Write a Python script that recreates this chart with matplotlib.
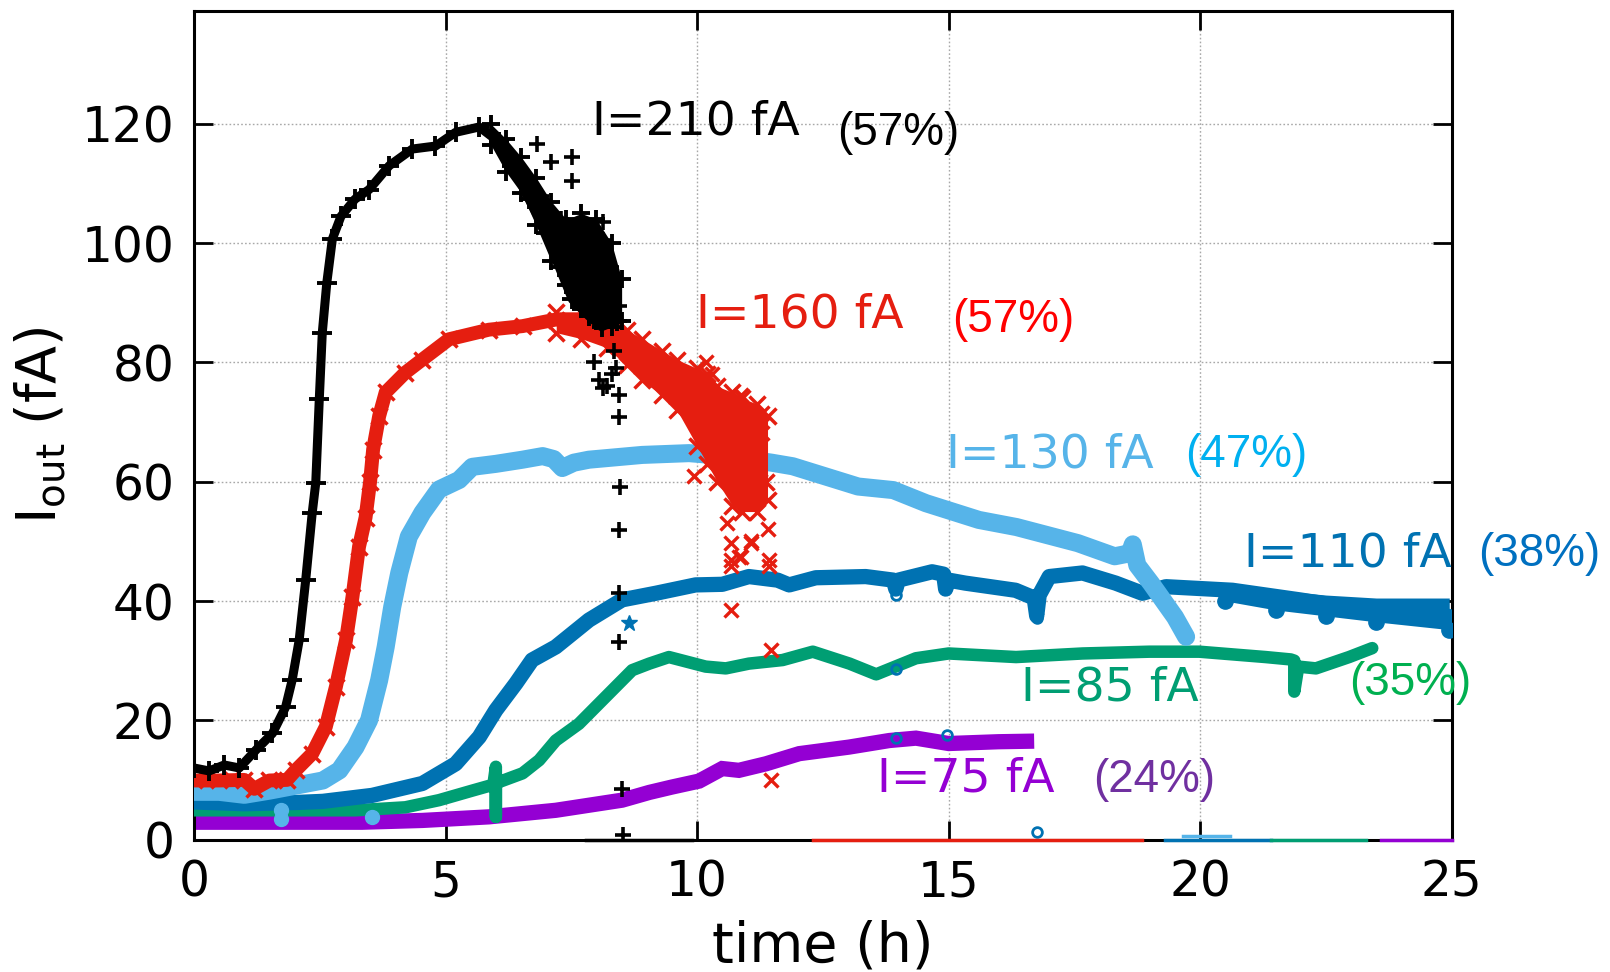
import matplotlib
matplotlib.use("Agg")
import matplotlib.pyplot as plt

# ---------------- data (time in h, current in fA) ----------------
black_t = [0, 0.3, 0.6, 0.9, 1.23, 1.56, 1.82, 1.95, 2.09, 2.22, 2.35, 2.42, 2.49, 2.55, 2.64,
           2.75, 2.92, 3.2, 3.48, 3.88, 4.34, 4.8, 5.2, 5.67, 6.06, 6.33, 6.66, 7.0, 7.26, 7.52,
           7.85, 8.1, 8.4]
black_y = [12, 11.5, 12.5, 12, 15, 17.8, 22.2, 26.7, 33.4, 43.5, 54.8, 59.8, 73.8, 85, 93.4,
           100.7, 104.5, 107.4, 109, 113, 115.8, 116.3, 118.6, 119.5, 117, 113, 107.4, 101.8, 96,
           90.6, 87.8, 86, 87]
black_band_t = [5.9, 6.2, 6.5, 6.8, 7.1, 7.4, 7.7, 8.0, 8.3, 8.5]
black_band_hi = [120, 117.5, 114.5, 111, 107, 104, 105, 104, 100, 94]
black_band_lo = [116.5, 112, 108.5, 103, 97, 93, 89, 87, 86, 87]
black_sc_t = [6.82, 7.09, 7.52, 7.52, 8.12, 8.12, 8.28, 8.45, 8.45, 8.45, 8.46, 8.45, 8.45,
              8.45, 8.5, 8.52, 7.7, 7.9, 8.0, 8.2, 8.3, 7.95, 8.05, 8.2, 8.3, 8.35, 7.3, 7.6,
              7.8, 6.6, 6.9, 8.12, 8.38]
black_sc_y = [116.6, 113.6, 114.4, 110.5, 103.5, 100.5, 96, 89.5, 74.6, 70.8, 59.2, 51.9, 41.3,
              33.1, 8.5, 0.7, 100, 97, 92, 93, 88, 80, 77, 76, 78, 82, 104, 98, 94, 111, 108,
              75.8, 79]

red_t = [0, 0.5, 1.0, 1.2, 1.5, 1.85, 2.02, 2.35, 2.62, 2.82, 3.02, 3.15, 3.28, 3.41, 3.5,
         3.56, 3.68, 3.81, 4.2, 4.54, 5.07, 5.86, 6.53, 7.19, 7.5, 7.85, 8.25, 8.91, 9.58,
         10.04, 10.44, 10.9, 11.36]
red_y = [9.9, 9.9, 10, 8.5, 9.9, 10, 11.6, 14.4, 18.9, 25.6, 33.4, 40.7, 49.1, 54, 60,
         65.4, 71, 75, 78.3, 80.5, 83.9, 85.5, 86.1, 87.2, 87, 86.7, 85.5, 80.5, 76.3,
         72, 66, 62, 60]
red_band_t = [7.2, 7.7, 8.2, 8.6, 8.9, 9.3, 9.6, 10.0, 10.2, 10.4, 10.7, 10.9, 11.2, 11.4]
red_band_hi = [88.5, 88.5, 87.5, 85.5, 84, 82, 80.5, 79, 78, 76, 75, 74, 73, 71]
red_band_lo = [85, 84, 82.5, 79.5, 77, 74.5, 72, 66, 63, 60, 56, 55, 55, 57]
red_sc_t = [10.67, 10.67, 10.83, 10.67, 11.07, 11.43, 11.43, 10.67, 9.94, 10.87, 11.3, 11.3,
            10.17, 11.47, 11.47, 11.07, 10.87, 10.3, 10.5, 11.0, 11.2, 10.6, 11.4, 9.9]
red_sc_y = [46.9, 49.7, 47.4, 45.8, 49.7, 46.9, 45.8, 38.5, 60.9, 74.6, 71.6, 68.2, 80, 31.8,
            9.9, 50, 47.4, 78, 70, 66, 58, 53, 52, 78]

lblue_t = [0, 0.5, 1.0, 1.5, 2.0, 2.56, 2.89, 3.21, 3.48, 3.68, 3.81, 3.94, 4.08, 4.27, 4.54,
           4.87, 5.27, 5.53, 6.0, 6.53, 6.93, 7.15, 7.32, 7.55, 7.85, 8.91, 9.84, 10.57, 11.48,
           11.9, 13.2, 13.9, 14.55, 15.6, 16.35, 17.57, 18.3, 18.6, 18.66, 18.75, 19.02, 19.5,
           19.72]
lblue_y = [8, 8, 7.5, 8.2, 9, 9.9, 11.6, 15.5, 20, 26.7, 32.3, 39, 44.7, 50.8, 54.8, 58.7,
           60.3, 62.5, 63, 63.7, 64.3, 63.8, 62.3, 63.2, 63.7, 64.5, 64.8, 64.3, 63.2, 62.6,
           59.2, 58.6, 56.4, 53.6, 52.4, 49.7, 47.5, 48, 49.5, 46, 43, 37.3, 34]
lblue_sc_t = [1.72, 1.72, 3.54]
lblue_sc_y = [4.9, 3.5, 3.7]

blue_t = [0, 1, 2, 2.56, 3.54, 4.54, 5.2, 5.67, 6.0, 6.4, 6.72, 7.19, 7.85, 8.51, 9.18, 9.97,
          10.5, 11.03, 11.6, 11.83, 12.36, 13.35, 13.9, 13.95, 14.0, 14.67, 14.9, 14.94, 15.0,
          15.33, 16.33, 16.7, 16.75, 16.8, 17.0, 17.66, 18.32, 18.85, 19.32, 20.64, 21.97,
          23.3, 24.95]
blue_y = [6.3, 6, 6.2, 6.4, 7.4, 9.4, 12.7, 17.2, 21.7, 26.2, 30.1, 32.3, 36.8, 40.2, 41.3,
          42.7, 42.8, 44.1, 43.5, 42.7, 43.9, 44.1, 43.5, 42, 43.5, 44.9, 44.5, 42, 43.5, 43,
          41.8, 40.5, 37.5, 41, 44.1, 44.7, 43, 41.3, 42.4, 41.8, 40.2, 38.5, 37.4]
blue_band_t = [20.5, 21.5, 22.5, 23.5, 24.95]
blue_band_hi = [42.5, 41.8, 41, 40.5, 40.5]
blue_band_lo = [40, 38.5, 37.5, 36.5, 35.2]
blue_open_t = [16.75, 16.75, 13.95, 14.97, 13.95, 13.95]
blue_open_y = [37.1, 1.2, 17, 17.5, 28.6, 41.0]
blue_star_t = [8.65]
blue_star_y = [36.3]

green_t = [0, 1, 2, 3.21, 4.2, 4.87, 5.53, 5.95, 6.0, 6.0, 6.0, 6.05, 6.53, 6.86, 7.19, 7.65,
           8.18, 8.71, 9.05, 9.44, 10.17, 10.57, 11.03, 11.7, 12.3, 13.03, 13.56, 14.35, 15.0,
           16.34, 17.66, 18.99, 19.98, 21.3, 21.8, 21.87, 21.87, 21.95, 22.3, 22.96, 23.42]
green_y = [4.9, 4.9, 4.9, 4.9, 5.4, 6.6, 8.2, 9.2, 12.2, 3.8, 9.4, 9.6, 11.1, 13.3, 16.6, 19.4,
           23.9, 28.4, 29.5, 30.6, 29, 28.7, 29.5, 30.1, 31.5, 29.5, 27.7, 30.4, 31.2, 30.6,
           31.2, 31.5, 31.5, 30.6, 30.2, 30.0, 24.8, 29.0, 28.7, 30.6, 32.1]

purple_t = [0, 1, 2, 3.34, 4.54, 5.86, 7.19, 8.51, 9.05, 9.5, 10.04, 10.5, 10.83, 11.37,
            12.03, 13.02, 13.82, 14.35, 15.0, 15.99, 16.7]
purple_y = [2.9, 2.9, 2.9, 2.9, 3.2, 3.8, 4.9, 6.6, 7.9, 8.8, 9.8, 11.9, 11.6, 12.7, 14.4,
            15.5, 16.6, 17, 16.1, 16.4, 16.5]

# zero-valued stretches lying on the bottom axis (series colour, start h, end h, level)
zero_runs = [("black", 7.8, 9.9, 0.0), ("red", 12.3, 18.85, 0.0), ("blue", 19.3, 21.4, 0.0),
             ("lblue", 19.65, 20.6, 0.6), ("green", 21.4, 23.3, 0.0), ("purple", 23.6, 25.0, 0.0)]

labels = ["I=210 fA", "I=160 fA", "I=130 fA", "I=110 fA", "I=85 fA", "I=75 fA"]
label_pos = [(7.91, 120.3), (9.98, 88.0), (14.95, 64.5), (20.87, 47.8), (16.44, 25.4), (13.58, 10.2)]
percents = ["(57%)", "(57%)", "(47%)", "(38%)", "(35%)", "(24%)"]
percent_pos = [(12.78, 118.5), (15.07, 87.2), (19.7, 64.5), (25.53, 47.8), (22.96, 26.3), (17.87, 9.9)]

xticks = [0, 5, 10, 15, 20, 25]
yticks = [0, 20, 40, 60, 80, 100, 120]

# ---------------- styling ----------------
C = {"black": "#000000", "red": "#e51e10", "lblue": "#56b4e9", "blue": "#0072b2",
     "green": "#009e73", "purple": "#9400d3"}
label_colors = [C["black"], C["red"], C["lblue"], C["blue"], C["green"], C["purple"]]
percent_colors = ["#000000", "#ff0000", "#00b0f0", "#0070c0", "#00b050", "#7030a0"]

plt.rcParams["font.family"] = ["DejaVu Sans"]

fig = plt.figure(figsize=(16.1, 9.72), dpi=100)
ax = fig.add_axes([0.1205, 0.1363, 0.9017 - 0.1205, 0.989 - 0.1363])

ax.set_xlim(0, 25)
ax.set_ylim(0, 139)
ax.set_xticks(xticks)
ax.set_yticks(yticks)
ax.grid(True, color="#a8a8a8", linestyle=(0, (1.2, 1.6)), linewidth=1.0)
ax.set_axisbelow(True)
ax.tick_params(direction="in", length=14, width=2, top=True, right=True,
               labelsize=35, pad=14)
ax.tick_params(axis="x", pad=14)
for s in ax.spines.values():
    s.set_linewidth(2.2)

# purple (bottom layer)
ax.plot(purple_t, purple_y, color=C["purple"], lw=11, solid_capstyle="butt",
        solid_joinstyle="miter", zorder=2)
# green
ax.plot(green_t, green_y, color=C["green"], lw=9, solid_capstyle="round",
        solid_joinstyle="round", zorder=3)
# blue
ax.fill_between(blue_band_t, blue_band_lo, blue_band_hi, color=C["blue"], lw=0, zorder=4)
ax.plot(blue_t, blue_y, color=C["blue"], lw=11, solid_capstyle="round",
        solid_joinstyle="round", zorder=4)
ax.plot(blue_band_t, blue_band_lo, ls="none", marker="o", ms=11, color=C["blue"], zorder=4)
ax.plot(blue_open_t, blue_open_y, ls="none", marker="o", ms=7, mfc="none", mec=C["blue"],
        mew=2, zorder=4)
ax.plot(blue_star_t, blue_star_y, ls="none", marker="*", ms=12, color=C["blue"], zorder=4)
# light blue
ax.plot(lblue_t, lblue_y, color=C["lblue"], lw=13, solid_capstyle="round",
        solid_joinstyle="round", zorder=5)
ax.plot(lblue_sc_t, lblue_sc_y, ls="none", marker="o", ms=10, color=C["lblue"], zorder=5)
# red
ax.fill_between(red_band_t, red_band_lo, red_band_hi, color=C["red"], lw=0, zorder=6)
ax.plot(red_band_t, red_band_hi, ls="none", marker="x", ms=11, mew=2.5, color=C["red"], zorder=6)
ax.plot(red_band_t, red_band_lo, ls="none", marker="x", ms=11, mew=2.5, color=C["red"], zorder=6)
ax.plot(red_t, red_y, color=C["red"], lw=10, solid_capstyle="butt", zorder=6)
ax.plot(red_t, red_y, ls="none", marker="x", ms=12, mew=2.5, color=C["red"], zorder=6)
ax.plot(red_sc_t, red_sc_y, ls="none", marker="x", ms=10, mew=2.4, color=C["red"], zorder=6)
# black
ax.fill_between(black_band_t, black_band_lo, black_band_hi, color=C["black"], lw=0, zorder=7)
ax.plot(black_band_t, black_band_hi, ls="none", marker="+", ms=13, mew=2.8, color=C["black"],
        zorder=7)
ax.plot(black_band_t, black_band_lo, ls="none", marker="+", ms=13, mew=2.8, color=C["black"],
        zorder=7)
ax.plot(black_t, black_y, color=C["black"], lw=6.5, zorder=7)
ax.plot(black_t, black_y, ls="none", marker="+", ms=14, mew=2.8, color=C["black"], zorder=7)
ax.plot(black_sc_t, black_sc_y, ls="none", marker="+", ms=12, mew=2.6, color=C["black"],
        zorder=7)

# zero stretches on the axis
for key, a, b, lev in zero_runs:
    ax.plot([a, b], [lev, lev], color=C[key], lw=2.5, clip_on=False, zorder=8)

# annotations
for txt, (x, y), col in zip(labels, label_pos, label_colors):
    ax.text(x, y, txt, color=col, fontsize=34, ha="left", va="center", zorder=10)
for txt, (x, y), col in zip(percents, percent_pos, percent_colors):
    ax.text(x, y, txt, color=col, fontsize=33, family="Liberation Sans", ha="left",
            va="center", zorder=10, clip_on=False)

ax.set_xlabel("time (h)", fontsize=40, labelpad=9)
ax.set_ylabel(r"I$_{\rm out}$ (fA)", fontsize=40, labelpad=10)

fig.savefig("out.png", dpi=100)
